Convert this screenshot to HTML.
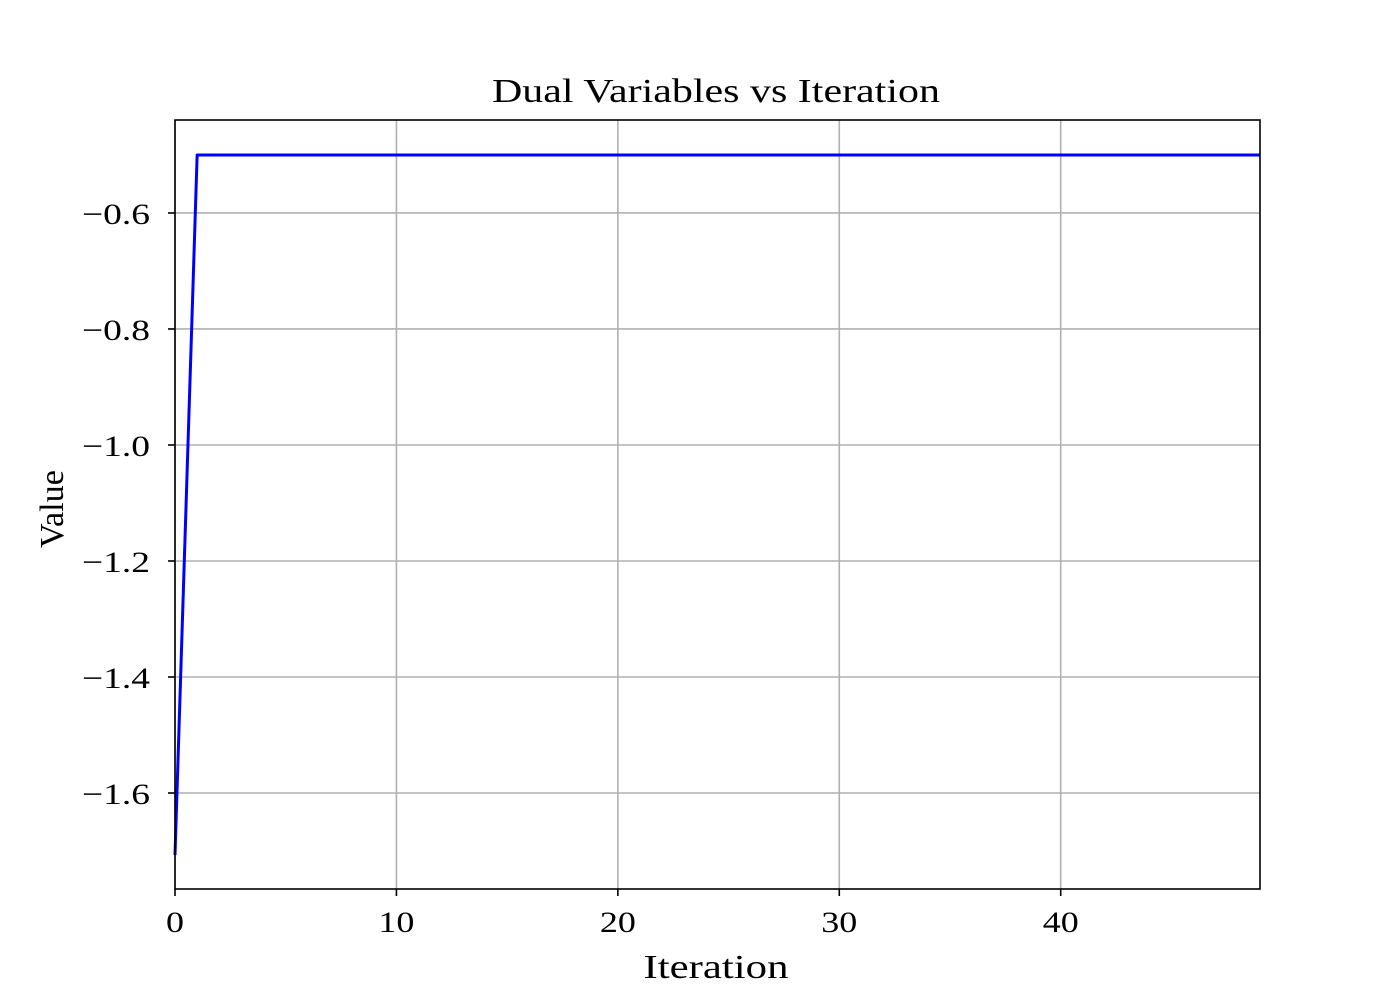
<!DOCTYPE html>
<html><head><meta charset="utf-8"><style>
html,body{margin:0;padding:0;background:#fff;width:1400px;height:1000px;overflow:hidden}
text{font-family:"Liberation Serif","DejaVu Serif",serif;fill:#000}
</style></head><body>
<svg id="chart" width="1400" height="1000" viewBox="0 0 1400 1000" xmlns="http://www.w3.org/2000/svg">
<rect width="1400" height="1000" fill="#fff"/>
<g id="grid"></g>
<g id="series"></g>
<rect x="175" y="120" width="1085" height="769" fill="none" stroke="#000" stroke-width="1.6"/>
<g id="ticks"></g>
<text x="716" y="102" font-size="34" text-anchor="middle" textLength="448" lengthAdjust="spacingAndGlyphs">Dual Variables vs Iteration</text>
<text x="716" y="978" font-size="34" text-anchor="middle" textLength="145" lengthAdjust="spacingAndGlyphs">Iteration</text>
<text transform="translate(63,509) rotate(-90)" font-size="34" text-anchor="middle" textLength="78" lengthAdjust="spacingAndGlyphs">Value</text>
</svg>
<script>
const iterations = [0,1,2,3,4,5,6,7,8,9,10,11,12,13,14,15,16,17,18,19,20,21,22,23,24,25,26,27,28,29,30,31,32,33,34,35,36,37,38,39,40,41,42,43,44,45,46,47,48,49];
const dualValues = [-1.707,-0.5,-0.5,-0.5,-0.5,-0.5,-0.5,-0.5,-0.5,-0.5,-0.5,-0.5,-0.5,-0.5,-0.5,-0.5,-0.5,-0.5,-0.5,-0.5,-0.5,-0.5,-0.5,-0.5,-0.5,-0.5,-0.5,-0.5,-0.5,-0.5,-0.5,-0.5,-0.5,-0.5,-0.5,-0.5,-0.5,-0.5,-0.5,-0.5,-0.5,-0.5,-0.5,-0.5,-0.5,-0.5,-0.5,-0.5,-0.5,-0.5];
const xTicks = [0,10,20,30,40];
const yTicks = [-1.6,-1.4,-1.2,-1.0,-0.8,-0.6];
const yTickLabels = ["\u22121.6","\u22121.4","\u22121.2","\u22121.0","\u22120.8","\u22120.6"];

const L=175,R=1260,T=120,B=889;
const xMin=0,xMax=49,yMin=-1.7655,yMax=-0.4397;
const xs=v=>L+(v-xMin)/(xMax-xMin)*(R-L);
const ys=v=>B-(v-yMin)/(yMax-yMin)*(B-T);
const NS="http://www.w3.org/2000/svg";
function mk(tag,attrs,parent){const e=document.createElementNS(NS,tag);for(const k in attrs)e.setAttribute(k,attrs[k]);document.getElementById(parent).appendChild(e);return e;}

xTicks.forEach(t=>{
  const x=xs(t);
  const g=mk('line',{x1:x,x2:x,y1:T,y2:B,stroke:'#b0b0b0','stroke-width':1.6},'grid');
  
  
  const tk=mk('line',{x1:x,x2:x,y1:B,y2:B+7,stroke:'#000','stroke-width':1.6},'ticks');
  
  
  const s=String(t);
  const tl=mk('text',{x:x,y:B+43,'font-size':30,'text-anchor':'middle',textLength:s.length*18,lengthAdjust:'spacingAndGlyphs'},'ticks');
  tl.textContent=s;
  
  
});
yTicks.forEach((t,i)=>{
  const y=ys(t);
  const g=mk('line',{x1:L,x2:R,y1:y,y2:y,stroke:'#b0b0b0','stroke-width':1.6},'grid');
  
  
  const tk=mk('line',{x1:L-7,x2:L,y1:y,y2:y,stroke:'#000','stroke-width':1.6},'ticks');
  
  
  const tl=mk('text',{x:L-25,y:y+11,'font-size':30,'text-anchor':'end',textLength:68,lengthAdjust:'spacingAndGlyphs'},'ticks');
  tl.textContent=yTickLabels[i];
  
  
});
const pts=iterations.map((v,i)=>xs(v).toFixed(2)+','+ys(dualValues[i]).toFixed(2)).join(' ');
const line=mk('polyline',{points:pts,fill:'none',stroke:'#0000ff','stroke-width':3,'stroke-linejoin':'round'},'series');


</script>
</body></html>
